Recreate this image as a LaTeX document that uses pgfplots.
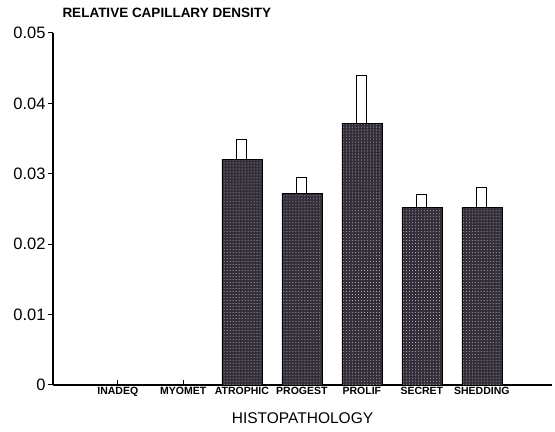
\documentclass[border=0pt]{standalone}
\usepackage{pgfplots}
\pgfplotsset{compat=1.18}
\usepackage{fontspec}
\setmainfont{Liberation Sans}
\usetikzlibrary{patterns}
\definecolor{bardark}{RGB}{52,46,58}
\pgfplotstableread{
x val
2 0.0321
3 0.0272
4 0.0372
5 0.0252
6 0.0252
}\vals
\pgfplotstableread{
x err
2 0.0028
3 0.0023
4 0.0068
5 0.0018
6 0.0029
}\errs
\begin{document}
\begin{tikzpicture}
\begin{axis}[
  scale only axis,
  width=499bp, height=352bp,
  xmin=-1.15, xmax=7.17,
  ymin=0, ymax=0.05,
  axis lines=left,
  axis line style={-, line width=1.2pt},
  ybar stacked,
  scaled y ticks=false,
  xtick={-0.07,1.02,2,3,4,5,6},
  xticklabels={INADEQ,MYOMET,ATROPHIC,PROGEST,PROLIF,SECRET,SHEDDING},
  xticklabel style={font=\fontsize{10.5bp}{11bp}\selectfont\bfseries, yshift=1bp},
  ytick={0,0.01,0.02,0.03,0.04,0.05},
  yticklabels={0,0.01,0.02,0.03,0.04,0.05},
  yticklabel style={font=\fontsize{16.5bp}{17bp}\selectfont, xshift=1bp},
  /pgf/number format/assume math mode=true,
  xtick align=inside, ytick align=outside,
  major tick length=5bp,
  tick style={black, line width=1pt},
  clip=false,
]
\addplot[ybar, bar width=40bp, fill=bardark, draw=black, line width=0.6pt,
  postaction={pattern=dots, pattern color=white!70!bardark}] table[x=x,y=val] {\vals};
\addplot[ybar, bar width=10bp, fill=white, draw=black, line width=1pt] table[x=x,y=err] {\errs};
\coordinate (bl) at (axis description cs:-0.1062,-0.1335);
\coordinate (tr) at (axis description cs:1.0060,1.0937);
\node[anchor=west, font=\fontsize{13.5bp}{14bp}\selectfont\bfseries] at (axis description cs:0.012,1.057) {RELATIVE CAPILLARY DENSITY};
\node[font=\fontsize{15.5bp}{16bp}\selectfont] at (axis description cs:0.5,-0.094) {HISTOPATHOLOGY};
\end{axis}
\pgfresetboundingbox
\path[use as bounding box] (bl) rectangle (tr);
\end{tikzpicture}
\end{document}
